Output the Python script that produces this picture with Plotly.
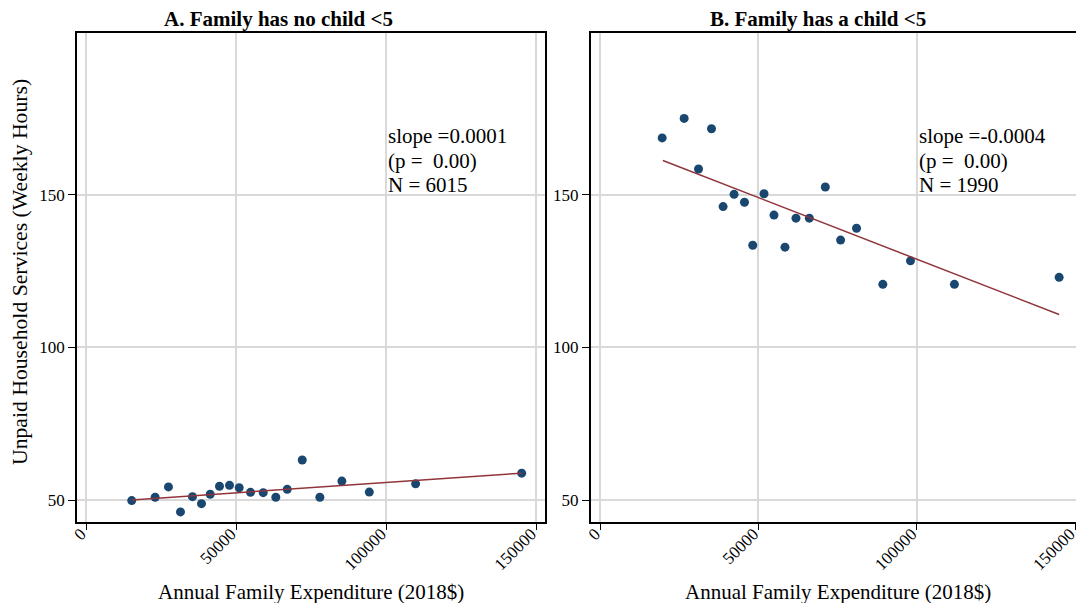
import plotly.graph_objects as go

# ---- data ----
left_x = [15230, 23030, 27470, 31470, 35470, 38470, 41370, 44470, 47800, 51030,
          54800, 59030, 63230, 67030, 72030, 77900, 85230, 94370, 109800, 145130]
left_y = [49.8, 50.9, 54.3, 46.1, 51.1, 48.8, 51.9, 54.5, 54.8, 54.0,
          52.5, 52.4, 50.9, 53.5, 63.1, 50.9, 56.2, 52.6, 55.3, 58.8]
left_fit_x = [15230, 145130]
left_fit_y = [50.0, 58.8]

right_x = [19580, 26520, 35160, 31060, 42290, 38820, 45570, 48190, 51750, 54900,
           58370, 61840, 66070, 71110, 75940, 80980, 89280, 98010, 111890, 144970]
right_y = [168.7, 175.1, 171.7, 158.5, 150.2, 146.2, 147.6, 133.5, 150.4, 143.4,
           132.9, 142.4, 142.4, 152.6, 135.2, 139.1, 120.7, 128.4, 120.7, 123.0]
right_fit_x = [19800, 144970]
right_fit_y = [161.3, 110.8]

x_ticks = [0, 50000, 100000, 150000]
y_ticks = [50, 100, 150]
panel_titles = ["A. Family has no child <5", "B. Family has a child <5"]
stats_left = ["slope =0.0001", "(p =\u00a0 0.00)", "N = 6015"]
stats_right = ["slope =-0.0004", "(p =\u00a0 0.00)", "N = 1990"]
x_title = "Annual Family Expenditure (2018$)"
y_title = "Unpaid Household Services (Weekly Hours)"

FONT = "Liberation Serif, Times New Roman, serif"
NAVY = "#1a476f"
MAROON = "#90353b"
GRID = "#d9d9d9"
W, H = 1076, 603

fig = go.Figure()
fig.add_trace(go.Scatter(x=left_x, y=left_y, mode="markers", xaxis="x", yaxis="y",
                         marker=dict(color=NAVY, size=9), showlegend=False))
fig.add_trace(go.Scatter(x=left_fit_x, y=left_fit_y, mode="lines", xaxis="x", yaxis="y",
                         line=dict(color=MAROON, width=1.5), showlegend=False))
fig.add_trace(go.Scatter(x=right_x, y=right_y, mode="markers", xaxis="x2", yaxis="y2",
                         marker=dict(color=NAVY, size=9), showlegend=False))
fig.add_trace(go.Scatter(x=right_fit_x, y=right_fit_y, mode="lines", xaxis="x2", yaxis="y2",
                         line=dict(color=MAROON, width=1.5), showlegend=False))

ydom = [(H - 521.5) / H, (H - 33) / H]
yrange = [42.95, 203.1]

common_x = dict(tickvals=x_ticks, ticktext=[str(v) for v in x_ticks], tickangle=-45,
                ticks="outside", ticklen=7, tickwidth=1.2, tickcolor="black",
                ticklabelstandoff=-13, ticklabelshift=-5, ticklabeloverflow="allow",
                automargin=False,
                showgrid=True, gridcolor=GRID, gridwidth=1.5, zeroline=False,
                showline=True, linecolor="black", linewidth=1.8, mirror=True,
                tickfont=dict(family=FONT, size=17, color="black"))
common_y = dict(tickvals=y_ticks, ticktext=[str(v) for v in y_ticks],
                ticks="outside", ticklen=7, tickwidth=1.2, tickcolor="black",
                automargin=False,
                showgrid=True, gridcolor=GRID, gridwidth=1.5, zeroline=False,
                showline=True, linecolor="black", linewidth=1.8,
                tickfont=dict(family=FONT, size=17, color="black"), range=yrange)

fig.update_layout(
    width=W, height=H, autosize=False,
    margin=dict(l=0, r=0, t=0, b=0),
    paper_bgcolor="white", plot_bgcolor="white",
    font=dict(family=FONT, color="black"),
    xaxis=dict(domain=[77 / W, 545 / W], range=[-3000, 152900], anchor="y", **common_x),
    yaxis=dict(domain=ydom, anchor="x", mirror=True, **common_y),
    xaxis2=dict(domain=[590.7 / W, 1.0], range=[-3000, 150300], anchor="y2", **common_x),
    yaxis2=dict(domain=ydom, anchor="x2", mirror=False, **common_y),
)

ann = []
# panel titles
for txt, cx in zip(panel_titles, [278.5, 817.5]):
    ann.append(dict(text="<b>" + txt + "</b>", x=cx / W, y=1 - 19 / H, xref="paper", yref="paper",
                    xanchor="center", yanchor="middle", showarrow=False,
                    font=dict(family=FONT, size=21, color="black")))
# x titles
for cx in [311, 838]:
    ann.append(dict(text=x_title, x=cx / W, y=1 - 592 / H, xref="paper", yref="paper",
                    xanchor="center", yanchor="middle", showarrow=False,
                    font=dict(family=FONT, size=21, color="black")))
# y title
ann.append(dict(text=y_title, x=20 / W, y=1 - 272 / H, xref="paper", yref="paper",
                xanchor="center", yanchor="middle", textangle=-90, showarrow=False,
                font=dict(family=FONT, size=21.7, color="black")))
# stats text
line_px = [136, 160.5, 185]
for lines, xr, yr in [(stats_left, "x", "y"), (stats_right, "x2", "y2")]:
    for t, py in zip(lines, line_px):
        ann.append(dict(text=t, x=100000, xref=xr, y=1 - py / H, yref="paper",
                        xanchor="left", yanchor="middle", showarrow=False,
                        font=dict(family=FONT, size=21, color="black")))
fig.update_layout(annotations=ann)

fig.write_html("out.html", config={"displayModeBar": False},
               post_script="document.documentElement.style.overflow='hidden';"
                           "document.body.style.margin='0px';document.body.style.overflow='hidden';")
